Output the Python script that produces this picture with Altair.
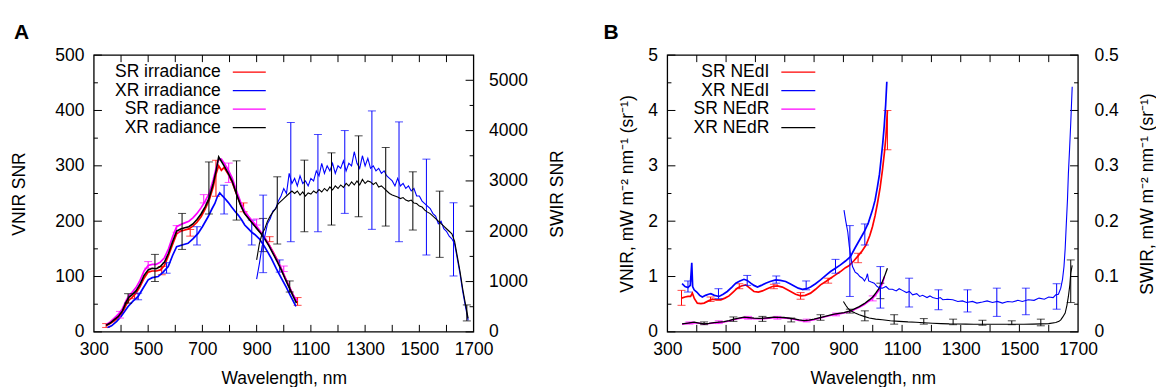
import altair as alt
import pandas as pd

FONT = "Liberation Sans"
FS = 17.5
RED, BLUE, MAG, BLK = "#ff0000", "#0000ff", "#ff00ff", "#000000"

# ---------------- common axis data ----------------
X_DOMAIN = [300, 1700]
X_LABELS = [300, 500, 700, 900, 1100, 1300, 1500, 1700]
X_TICKS = [400, 500, 600, 700, 800, 900, 1000, 1100, 1200, 1300, 1400, 1500, 1600]

# ---------------- Panel A : SNR ----------------
A_LEFT_DOMAIN = [0, 500]
A_RIGHT_DOMAIN = [0, 5500]
A_LEFT_MAJOR = [0, 100, 200, 300, 400, 500]
A_LEFT_MINOR = [50, 150, 250, 350, 450]
A_RIGHT_MAJOR = [0, 1000, 2000, 3000, 4000, 5000]
A_RIGHT_MINOR = [500, 1500, 2500, 3500, 4500]

A_SRI_NM = [345, 360, 375, 390, 405, 420, 430, 440, 455, 470, 485, 500, 515, 530, 545, 560, 575, 590, 605, 620, 635, 650, 665, 680, 695, 710, 725, 740, 750, 760, 770, 780, 795, 810, 825, 840, 855, 870, 885, 900, 915, 930, 945, 960, 975, 990, 1005, 1020, 1035, 1050]
A_SRI = [11, 15, 20, 26, 35, 50, 58, 62, 70, 82, 97, 108, 110, 110, 112, 120, 138, 158, 177, 182, 184, 186, 191, 198, 208, 222, 238, 262, 285, 300, 292, 297, 285, 270, 250, 231, 215, 206, 197, 188, 179, 169, 158, 145, 131, 115, 98, 82, 66, 54]

A_XRI_NM = [350, 365, 384, 400, 415, 426, 445, 463, 480, 500, 515, 537, 555, 574, 590, 605, 625, 647, 665, 684, 700, 721, 735, 746, 755, 764, 773, 783, 795, 807, 820, 832, 845, 856, 870, 882, 893, 910, 924, 940, 955, 973, 990, 1010, 1025, 1045]
A_XRI = [8, 11, 19, 28, 38, 46, 56, 64, 78, 94, 98, 100, 108, 118, 138, 154, 157, 160, 168, 178, 190, 208, 222, 232, 244, 251, 246, 241, 234, 226, 218, 211, 202, 193, 186, 180, 176, 168, 158, 145, 132, 114, 98, 80, 65, 46]

A_SRR_NM = A_SRI_NM
A_SRR = [13, 18, 25, 32, 42, 58, 66, 71, 80, 93, 110, 120, 122, 122, 126, 134, 150, 172, 190, 194, 197, 200, 206, 214, 224, 236, 250, 275, 295, 312, 312, 305, 293, 278, 256, 236, 219, 209, 200, 191, 181, 170, 158, 144, 130, 115, 98, 82, 66, 56]

A_XRR_NM = [345, 360, 375, 390, 405, 420, 430, 440, 455, 470, 485, 500, 515, 530, 545, 560, 575, 590, 605, 620, 635, 650, 665, 680, 695, 710, 725, 740, 750, 760, 770, 780, 795, 810, 825, 840, 855, 870, 885, 900, 915, 930, 945, 960, 975, 990, 1005, 1020, 1035, 1047]
A_XRR = [12, 16, 22, 28, 38, 55, 63, 67, 74, 86, 102, 112, 115, 114, 118, 126, 142, 163, 182, 186, 188, 190, 195, 203, 213, 226, 242, 268, 290, 316, 308, 300, 287, 272, 250, 230, 214, 205, 196, 187, 178, 168, 156, 142, 128, 113, 96, 80, 64, 52]

A_XRI_SW_NM = list(range(900, 1690, 10))
A_XRI_SW = [1050, 1350, 1700, 1900, 2150, 2250, 2400, 2450, 2600, 2700, 2850, 2750, 3150, 2950, 3050, 2900, 3100, 2950, 3000, 2900, 3050, 3000, 3200, 3100, 3350, 3150, 3300, 3200, 3350, 3150, 3300, 3250, 3400, 3200, 3350, 3300, 3580, 3350, 3250, 3500, 3300, 3450, 3250, 3300, 3200, 3250, 3150, 3200, 3100, 3050, 3000, 2900, 3050, 2900, 2950, 2850, 2900, 2800, 2850, 2700, 2700, 2600, 2550, 2500, 2450, 2350, 2300, 2150, 2200, 2050, 2000, 1900, 1850, 1750, 1450, 1150, 800, 500, 230]
A_XRR_SW_NM = list(range(900, 1690, 10))
A_XRR_SW = [1430, 1750, 1950, 2050, 2200, 2300, 2380, 2450, 2550, 2600, 2650, 2700, 2750, 2800, 2750, 2800, 2720, 2780, 2700, 2760, 2740, 2800, 2760, 2830, 2780, 2850, 2800, 2880, 2820, 2900, 2850, 2920, 2870, 2950, 2900, 2980, 2920, 3000, 2920, 3030, 2950, 3000, 2980, 2930, 2970, 2880, 2900, 2850, 2800, 2750, 2720, 2700, 2680, 2650, 2670, 2620, 2600, 2620, 2560, 2550, 2500, 2480, 2420, 2380, 2350, 2300, 2250, 2200, 2150, 2100, 2050, 2000, 1950, 1800, 1500, 1200, 850, 550, 270]

# error bars panel A (nm, low, high)
A_EB_SRI_NM = [345, 450, 550, 655, 750, 852, 948, 1051]
A_EB_SRI_LO = [8, 60, 103, 173, 245, 217, 163, 48]
A_EB_SRI_HI = [15, 69, 118, 185, 310, 233, 172, 62]
A_EB_XRI_NM = [463, 568, 680, 780, 882, 985]
A_EB_XRI_LO = [58, 106, 157, 213, 157, 108]
A_EB_XRI_HI = [70, 125, 190, 265, 202, 130]
A_EB_SRR_NM = [396, 500, 605, 705, 797, 900, 1000]
A_EB_SRR_LO = [25, 115, 180, 233, 270, 193, 109]
A_EB_SRR_HI = [37, 127, 192, 248, 305, 204, 119]
A_EB_XRR_NM = [426, 525, 625, 724, 826, 924, 1022]
A_EB_XRR_LO = [52, 91, 149, 213, 202, 145, 72]
A_EB_XRR_HI = [69, 140, 214, 307, 309, 205, 92]
A_EB_XRI_SW_NM = [924, 1026, 1126, 1225, 1325, 1425, 1526, 1626]
A_EB_XRI_SW_LO = [1177, 1792, 1990, 2355, 2038, 1792, 1528, 1111]
A_EB_XRI_SW_HI = [2718, 4161, 3923, 4001, 4391, 4173, 3433, 2566]
A_EB_XRR_SW_NM = [976, 1076, 1176, 1276, 1376, 1476, 1575, 1675]
A_EB_XRR_SW_LO = [1746, 1990, 2123, 2288, 2103, 2024, 1481, 218]
A_EB_XRR_SW_HI = [3082, 3413, 3558, 3896, 3664, 3181, 2797, 536]

A_LEGEND = ["SR irradiance", "XR irradiance", "SR radiance", "XR radiance"]

# ---------------- Panel B : noise equivalent ----------------
B_LEFT_DOMAIN = [0, 5]
B_RIGHT_DOMAIN = [0, 0.5]
B_LEFT_MAJOR = [0, 1, 2, 3, 4, 5]
B_LEFT_MINOR = [0.5, 1.5, 2.5, 3.5, 4.5]
B_RIGHT_MAJOR = [0, 0.1, 0.2, 0.3, 0.4, 0.5]
B_RIGHT_MINOR = [0.05, 0.15, 0.25, 0.35, 0.45]

B_SRI_NM = [348, 360, 370, 379, 385, 392, 402, 414, 425, 440, 453, 467, 482, 496, 510, 524, 538, 552, 567, 581, 595, 610, 624, 640, 658, 675, 692, 706, 720, 737, 754, 770, 788, 805, 822, 840, 856, 873, 890, 907, 920, 935, 948, 962, 977, 990, 999, 1008, 1016, 1025, 1033, 1040, 1045, 1050]
B_SRI = [0.61, 0.63, 0.64, 0.64, 0.70, 0.60, 0.52, 0.51, 0.52, 0.56, 0.59, 0.58, 0.58, 0.61, 0.65, 0.72, 0.79, 0.83, 0.85, 0.79, 0.73, 0.72, 0.74, 0.78, 0.82, 0.83, 0.81, 0.77, 0.73, 0.68, 0.65, 0.66, 0.70, 0.77, 0.85, 0.91, 0.97, 1.03, 1.09, 1.16, 1.20, 1.28, 1.36, 1.45, 1.57, 1.74, 1.90, 2.10, 2.32, 2.60, 2.92, 3.25, 3.53, 4.00]

B_XRI_NM = [350, 360, 370, 378, 383, 386, 391, 400, 410, 419, 430, 440, 448, 460, 476, 490, 504, 520, 533, 547, 561, 572, 584, 595, 607, 620, 635, 650, 669, 685, 703, 718, 732, 746, 760, 775, 788, 805, 822, 840, 856, 873, 890, 907, 924, 940, 955, 970, 985, 999, 1008, 1016, 1023, 1028, 1034, 1039, 1044, 1048]
B_XRI = [0.87, 0.82, 0.80, 0.84, 1.25, 0.82, 0.76, 0.72, 0.66, 0.63, 0.66, 0.68, 0.69, 0.66, 0.64, 0.68, 0.73, 0.81, 0.88, 0.92, 0.95, 0.93, 0.88, 0.84, 0.81, 0.84, 0.88, 0.91, 0.94, 0.93, 0.91, 0.87, 0.83, 0.79, 0.77, 0.78, 0.81, 0.87, 0.94, 1.02, 1.09, 1.15, 1.21, 1.28, 1.36, 1.52, 1.66, 1.80, 1.97, 2.20, 2.38, 2.62, 2.85, 3.10, 3.40, 3.71, 4.10, 4.52]

B_SRR_NM = [350, 370, 391, 408, 425, 442, 459, 476, 493, 510, 527, 544, 561, 578, 595, 612, 629, 646, 663, 680, 697, 715, 732, 749, 766, 783, 800, 817, 834, 851, 868, 885, 902, 919, 936, 954, 971, 988, 1000, 1010, 1022, 1033, 1040]
B_SRR = [0.14, 0.155, 0.168, 0.155, 0.14, 0.15, 0.163, 0.17, 0.18, 0.198, 0.222, 0.243, 0.258, 0.25, 0.24, 0.238, 0.24, 0.248, 0.258, 0.256, 0.253, 0.241, 0.228, 0.208, 0.197, 0.205, 0.222, 0.245, 0.27, 0.29, 0.31, 0.325, 0.34, 0.365, 0.40, 0.445, 0.495, 0.56, 0.61, 0.67, 0.76, 0.87, 1.00]

B_XRR_NM = [350, 370, 391, 408, 425, 442, 459, 476, 493, 510, 527, 544, 561, 578, 595, 612, 629, 646, 663, 680, 697, 715, 732, 749, 766, 783, 800, 817, 834, 851, 868, 885, 902, 919, 936, 954, 971, 988, 1000, 1010, 1022, 1033, 1042, 1050]
B_XRR = [0.145, 0.16, 0.175, 0.16, 0.145, 0.155, 0.168, 0.176, 0.186, 0.205, 0.229, 0.25, 0.265, 0.257, 0.247, 0.245, 0.247, 0.255, 0.265, 0.263, 0.26, 0.248, 0.235, 0.215, 0.204, 0.212, 0.229, 0.252, 0.277, 0.298, 0.319, 0.333, 0.349, 0.375, 0.41, 0.457, 0.51, 0.578, 0.63, 0.70, 0.79, 0.91, 1.03, 1.15]

B_XRI_SW_NM = [902, 908, 915, 920, 925, 931, 940, 948, 956, 965, 972, 978, 982, 986, 995, 1005, 1015, 1025, 1033, 1045, 1055, 1067, 1080, 1090, 1101, 1115, 1125, 1136, 1150, 1160, 1170, 1185, 1195, 1204, 1220, 1230, 1239, 1255, 1273, 1290, 1306, 1320, 1340, 1355, 1374, 1390, 1408, 1425, 1442, 1460, 1476, 1495, 1510, 1530, 1550, 1567, 1585, 1600, 1615, 1624, 1633, 1641, 1647, 1652, 1656, 1660, 1664, 1667, 1671, 1675, 1680]
B_XRI_SW = [0.22, 0.20, 0.18, 0.155, 0.136, 0.118, 0.108, 0.105, 0.10, 0.097, 0.092, 0.098, 0.105, 0.092, 0.09, 0.088, 0.082, 0.079, 0.079, 0.082, 0.077, 0.077, 0.074, 0.078, 0.075, 0.071, 0.073, 0.067, 0.069, 0.064, 0.066, 0.062, 0.065, 0.062, 0.060, 0.062, 0.058, 0.059, 0.058, 0.055, 0.056, 0.053, 0.055, 0.052, 0.054, 0.056, 0.053, 0.055, 0.052, 0.055, 0.054, 0.057, 0.055, 0.058, 0.057, 0.061, 0.059, 0.063, 0.062, 0.067, 0.068, 0.079, 0.095, 0.118, 0.15, 0.196, 0.24, 0.286, 0.33, 0.377, 0.443]

B_XRR_SW_NM = [900, 908, 915, 925, 940, 954, 970, 988, 1010, 1033, 1060, 1090, 1120, 1147, 1175, 1204, 1233, 1261, 1290, 1317, 1345, 1374, 1400, 1431, 1460, 1487, 1515, 1545, 1575, 1600, 1624, 1635, 1641, 1648, 1656, 1662, 1667, 1672, 1675, 1680]
B_XRR_SW = [0.055, 0.048, 0.043, 0.038, 0.034, 0.031, 0.028, 0.025, 0.023, 0.022, 0.020, 0.019, 0.018, 0.0175, 0.0165, 0.0157, 0.015, 0.0144, 0.0142, 0.014, 0.0139, 0.0138, 0.0138, 0.0138, 0.0137, 0.0137, 0.0138, 0.014, 0.0145, 0.015, 0.0168, 0.019, 0.0217, 0.027, 0.034, 0.048, 0.064, 0.085, 0.106, 0.12]

B_EB_SRI_NM = [348, 447, 545, 663, 754, 848, 950, 1050]
B_EB_SRI_LO = [0.48, 0.55, 0.78, 0.78, 0.59, 0.88, 1.25, 3.29]
B_EB_SRI_HI = [0.75, 0.63, 0.87, 0.86, 0.71, 0.97, 1.42, 4.00]
B_EB_XRI_NM = [370, 474, 572, 671, 773, 873, 973]
B_EB_XRI_LO = [0.72, 0.60, 0.84, 0.88, 0.76, 1.06, 1.57]
B_EB_XRI_HI = [0.92, 0.78, 1.02, 1.01, 0.92, 1.31, 1.95]
B_EB_SRR_NM = [375, 475, 575, 675, 775, 875, 1000]
B_EB_SRR_LO = [0.14, 0.15, 0.23, 0.23, 0.18, 0.29, 0.56]
B_EB_SRR_HI = [0.18, 0.20, 0.28, 0.28, 0.23, 0.34, 0.65]
B_EB_XRR_NM = [425, 525, 624, 722, 822, 922, 1026]
B_EB_XRR_LO = [0.13, 0.19, 0.19, 0.18, 0.21, 0.34, 0.60]
B_EB_XRR_HI = [0.18, 0.27, 0.28, 0.25, 0.31, 0.41, 0.88]
B_EB_XRI_SW_NM = [922, 1026, 1124, 1224, 1323, 1423, 1522, 1627]
B_EB_XRI_SW_LO = [0.064, 0.043, 0.045, 0.040, 0.036, 0.028, 0.031, 0.041]
B_EB_XRI_SW_HI = [0.192, 0.118, 0.097, 0.076, 0.076, 0.079, 0.079, 0.087]
B_EB_XRR_SW_NM = [973, 1073, 1174, 1274, 1374, 1474, 1573, 1675]
B_EB_XRR_SW_LO = [0.020, 0.014, 0.014, 0.013, 0.012, 0.013, 0.011, 0.053]
B_EB_XRR_SW_HI = [0.038, 0.031, 0.024, 0.023, 0.021, 0.020, 0.023, 0.130]

B_LEGEND = ["SR NEdI", "XR NEdI", "SR NEdR", "XR NEdR"]

SUP_M = "\u207b"
B_LEFT_TITLE = "VNIR, mW m" + SUP_M + "\u00b2 nm" + SUP_M + "\u00b9 (sr" + SUP_M + "\u00b9)"
B_RIGHT_TITLE = "SWIR, mW m" + SUP_M + "\u00b2 nm" + SUP_M + "\u00b9 (sr" + SUP_M + "\u00b9)"

# ---------------- layout (pixels) ----------------
H = 277
WA, WB, GAP = 380, 411, 194
AX0, AX1 = 0, WA                     # panel A plot-area x range
BX0, BX1 = WA + GAP, WA + GAP + WB   # panel B plot-area x range
TOTAL_W = BX1

INT_LABELS = "format(datum.value, 'd')"
DEC_LABELS = "datum.value == 0 ? '0' : format(datum.value, '.1f')"


def xsc(rng):
    return alt.Scale(domain=X_DOMAIN, range=rng, nice=False, zero=False)


def ysc(dom):
    return alt.Scale(domain=dom, nice=False, zero=True)


class Panel:
    def __init__(self, x0, x1):
        self.x0, self.x1 = x0, x1
        self.rng = [x0, x1]

    def X(self, field, axis=None):
        return alt.X(field, type="quantitative", scale=xsc(self.rng), axis=axis)

    def line(self, nm, v, color, dom, sw):
        df = pd.DataFrame({"nm": nm, "v": v})
        return alt.Chart(df).mark_line(color=color, strokeWidth=sw, clip=True).encode(
            x=self.X("nm"), y=alt.Y("v:Q", scale=ysc(dom), axis=None))

    def errbars(self, nm, lo, hi, color, dom, cap=8):
        df = pd.DataFrame({"nm": nm, "lo": lo, "hi": hi})
        base = alt.Chart(df)
        rule = base.mark_rule(color=color, strokeWidth=1, clip=True).encode(
            x=self.X("nm"), y=alt.Y("lo:Q", scale=ysc(dom), axis=None), y2="hi:Q")
        c1 = base.mark_tick(color=color, orient="horizontal", size=cap, thickness=1, clip=True).encode(
            x=self.X("nm"), y=alt.Y("lo:Q", scale=ysc(dom), axis=None))
        c2 = base.mark_tick(color=color, orient="horizontal", size=cap, thickness=1, clip=True).encode(
            x=self.X("nm"), y=alt.Y("hi:Q", scale=ysc(dom), axis=None))
        return [rule, c1, c2]

    def frame(self, dom):
        df = pd.DataFrame({"a": [X_DOMAIN[0]], "b": [X_DOMAIN[1]], "lo": [dom[0]], "hi": [dom[1]]})
        return alt.Chart(df).mark_rect(fillOpacity=0, stroke="black", strokeWidth=1.3).encode(
            x=self.X("a"), x2="b", y=alt.Y("lo:Q", scale=ysc(dom), axis=None), y2="hi")

    def yaxis(self, major, minor, dom, side, title, title_x, label_pad, label_expr):
        if side == "left":
            xa, xb, xm = self.x0, self.x0 + 8, self.x0 + 4
            offset = -self.x0
        else:
            xa, xb, xm = self.x1, self.x1 - 8, self.x1 - 4
            offset = self.x1 - TOTAL_W
        ax = alt.Axis(orient=side, offset=offset, values=major, labelExpr=label_expr, ticks=False,
                      domain=False, grid=False, labelPadding=label_pad, labelFont=FONT,
                      labelFontSize=FS, labelColor="black", labelOverlap=False, labelFlush=False,
                      title=title, titleFont=FONT,
                      titleFontSize=FS, titleFontWeight="normal", titleColor="black",
                      titleAngle=270, titleX=title_x, titleY=H / 2, titleAlign="center",
                      titleBaseline="middle")
        maj = alt.Chart(pd.DataFrame({"v": major})).mark_rule(color="black", strokeWidth=1).encode(
            x=alt.value(xa), x2=alt.value(xb), y=alt.Y("v:Q", scale=ysc(dom), axis=ax))
        mnr = alt.Chart(pd.DataFrame({"v": minor})).mark_rule(color="black", strokeWidth=1).encode(
            x=alt.value(xa), x2=alt.value(xm), y=alt.Y("v:Q", scale=ysc(dom), axis=None))
        return [maj, mnr]

    def xaxis(self):
        ax = alt.Axis(orient="bottom", values=X_LABELS, labelExpr=INT_LABELS, ticks=False,
                      domain=False, grid=False, labelPadding=9, labelFont=FONT, labelFontSize=FS,
                      labelColor="black", labelOverlap=False, labelFlush=False,
                      title="Wavelength, nm", titleFont=FONT,
                      titleFontSize=FS, titleFontWeight="normal", titleColor="black",
                      titlePadding=11)
        df = pd.DataFrame({"t": X_TICKS})
        bot = alt.Chart(df).mark_rule(color="black", strokeWidth=1).encode(
            x=self.X("t", ax), y=alt.value(H), y2=alt.value(H - 7))
        top = alt.Chart(df).mark_rule(color="black", strokeWidth=1).encode(
            x=self.X("t"), y=alt.value(0), y2=alt.value(7))
        return [bot, top]

    def legend(self, labels, colors, text_dx, line_dx1, line_dx2, letter, letter_dx):
        dummy = pd.DataFrame({"d": [0]})
        out = []
        rows = [17, 35.5, 54, 72.5]
        for lab, col, yy in zip(labels, colors, rows):
            out.append(alt.Chart(dummy).mark_text(font=FONT, fontSize=FS, align="right",
                                                  baseline="middle", color="black").encode(
                x=alt.value(self.x0 + text_dx), y=alt.value(yy), text=alt.value(lab)))
            out.append(alt.Chart(dummy).mark_rule(color=col, strokeWidth=1.3).encode(
                x=alt.value(self.x0 + line_dx1), x2=alt.value(self.x0 + line_dx2), y=alt.value(yy)))
        out.append(alt.Chart(dummy).mark_text(font=FONT, fontSize=21, fontWeight="bold",
                                              align="left", baseline="top", color="black").encode(
            x=alt.value(self.x0 + letter_dx), y=alt.value(-33), text=alt.value(letter)))
        return out


# ---------------- panel A ----------------
pa = Panel(AX0, AX1)
a_layers = (
    [pa.frame(A_LEFT_DOMAIN)]
    + pa.yaxis(A_LEFT_MAJOR, A_LEFT_MINOR, A_LEFT_DOMAIN, "left", "VNIR SNR", -74, 10, INT_LABELS)
    + pa.yaxis(A_RIGHT_MAJOR, A_RIGHT_MINOR, A_RIGHT_DOMAIN, "right", "SWIR SNR", 84, 15, INT_LABELS)
    + pa.xaxis()
    + [pa.line(A_SRI_NM, A_SRI, RED, A_LEFT_DOMAIN, 1.7)]
    + pa.errbars(A_EB_SRI_NM, A_EB_SRI_LO, A_EB_SRI_HI, RED, A_LEFT_DOMAIN)
    + [pa.line(A_XRI_NM, A_XRI, BLUE, A_LEFT_DOMAIN, 1.7)]
    + pa.errbars(A_EB_XRI_NM, A_EB_XRI_LO, A_EB_XRI_HI, BLUE, A_LEFT_DOMAIN)
    + [pa.line(A_SRR_NM, A_SRR, MAG, A_LEFT_DOMAIN, 1.7)]
    + pa.errbars(A_EB_SRR_NM, A_EB_SRR_LO, A_EB_SRR_HI, MAG, A_LEFT_DOMAIN)
    + [pa.line(A_XRR_NM, A_XRR, BLK, A_LEFT_DOMAIN, 1.6)]
    + pa.errbars(A_EB_XRR_NM, A_EB_XRR_LO, A_EB_XRR_HI, BLK, A_LEFT_DOMAIN)
    + [pa.line(A_XRI_SW_NM, A_XRI_SW, BLUE, A_RIGHT_DOMAIN, 1.1)]
    + pa.errbars(A_EB_XRI_SW_NM, A_EB_XRI_SW_LO, A_EB_XRI_SW_HI, BLUE, A_RIGHT_DOMAIN)
    + [pa.line(A_XRR_SW_NM, A_XRR_SW, BLK, A_RIGHT_DOMAIN, 1.1)]
    + pa.errbars(A_EB_XRR_SW_NM, A_EB_XRR_SW_LO, A_EB_XRR_SW_HI, BLK, A_RIGHT_DOMAIN)
    + pa.legend(A_LEGEND, [RED, BLUE, MAG, BLK], 127, 139, 172, "A", -80)
)

# ---------------- panel B ----------------
pb = Panel(BX0, BX1)
b_layers = (
    [pb.frame(B_LEFT_DOMAIN)]
    + pb.yaxis(B_LEFT_MAJOR, B_LEFT_MINOR, B_LEFT_DOMAIN, "left", B_LEFT_TITLE, -40, 10, INT_LABELS)
    + pb.yaxis(B_RIGHT_MAJOR, B_RIGHT_MINOR, B_RIGHT_DOMAIN, "right", B_RIGHT_TITLE, 69, 16, DEC_LABELS)
    + pb.xaxis()
    + [pb.line(B_SRI_NM, B_SRI, RED, B_LEFT_DOMAIN, 1.7)]
    + pb.errbars(B_EB_SRI_NM, B_EB_SRI_LO, B_EB_SRI_HI, RED, B_LEFT_DOMAIN)
    + [pb.line(B_XRI_NM, B_XRI, BLUE, B_LEFT_DOMAIN, 1.7)]
    + pb.errbars(B_EB_XRI_NM, B_EB_XRI_LO, B_EB_XRI_HI, BLUE, B_LEFT_DOMAIN)
    + [pb.line(B_SRR_NM, B_SRR, MAG, B_LEFT_DOMAIN, 1.6)]
    + pb.errbars(B_EB_SRR_NM, B_EB_SRR_LO, B_EB_SRR_HI, MAG, B_LEFT_DOMAIN)
    + [pb.line(B_XRR_NM, B_XRR, BLK, B_LEFT_DOMAIN, 1.3)]
    + pb.errbars(B_EB_XRR_NM, B_EB_XRR_LO, B_EB_XRR_HI, BLK, B_LEFT_DOMAIN)
    + [pb.line(B_XRI_SW_NM, B_XRI_SW, BLUE, B_RIGHT_DOMAIN, 1.1)]
    + pb.errbars(B_EB_XRI_SW_NM, B_EB_XRI_SW_LO, B_EB_XRI_SW_HI, BLUE, B_RIGHT_DOMAIN)
    + [pb.line(B_XRR_SW_NM, B_XRR_SW, BLK, B_RIGHT_DOMAIN, 1.1)]
    + pb.errbars(B_EB_XRR_SW_NM, B_EB_XRR_SW_LO, B_EB_XRR_SW_HI, BLK, B_RIGHT_DOMAIN)
    + pb.legend(B_LEGEND, [RED, BLUE, MAG, BLK], 102, 114, 148, "B", -64)
)

chart = alt.layer(*(a_layers + b_layers)).resolve_scale(
    x="independent", y="independent"
).properties(
    width=TOTAL_W, height=H,
    padding={"left": 3, "top": 14, "right": 0, "bottom": 0},
).configure_view(stroke=None)

chart.save("out.html", embed_options={"renderer": "svg", "actions": False})
